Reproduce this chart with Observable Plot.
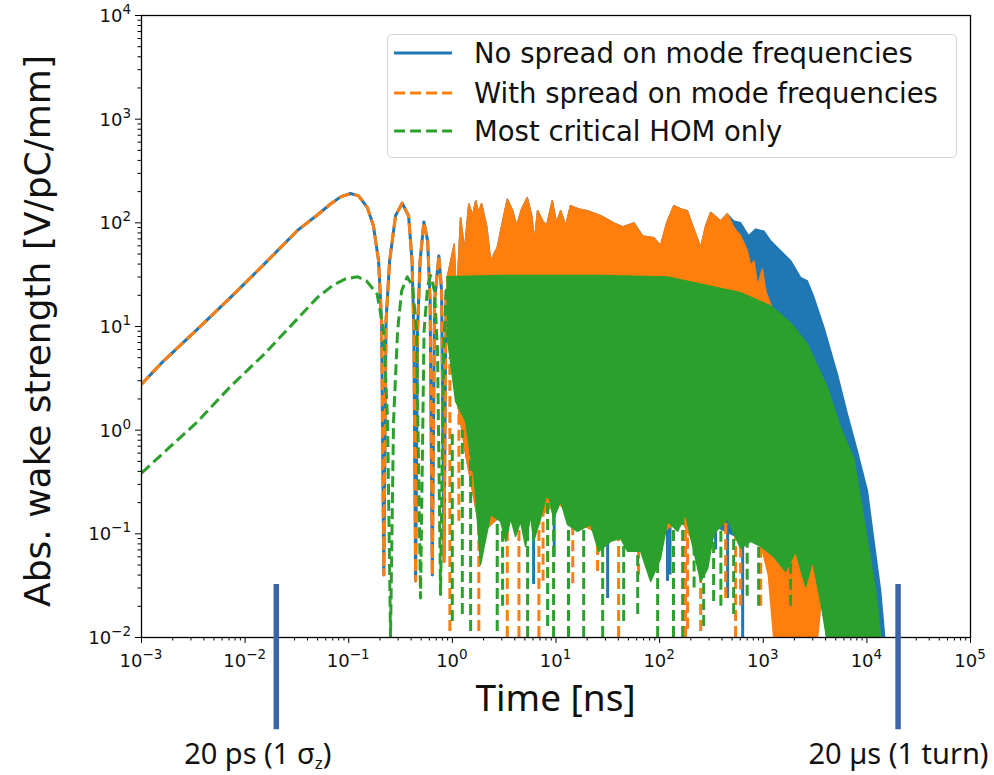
<!DOCTYPE html>
<html>
<head>
<meta charset="utf-8">
<script src="https://cdn.jsdelivr.net/npm/d3@7"></script>
<script src="https://cdn.jsdelivr.net/npm/@observablehq/plot@0.6"></script>
<style>
  html, body { margin: 0; padding: 0; background: #fff; }
  #wrap { position: relative; width: 994px; height: 775px; overflow: hidden; }
  .legend { position: absolute; left: 387px; top: 34px; width: 568px; height: 122px;
    border: 1px solid #d4d4d4; border-radius: 5px; background: rgba(255,255,255,0.85);
    font-family: "DejaVu Sans", sans-serif; font-size: 27.5px; color: #111; }
  .legend .row { position: absolute; left: 0; height: 30px; display: flex; align-items: center; }
  .legend svg { margin-left: 6px; margin-right: 22px; }
</style>
</head>
<body>
<div id="wrap"></div>
<script>
// ---------- axis ticks ----------
const xMajor = [1e-3, 1e-2, 1e-1, 1, 10, 100, 1e3, 1e4, 1e5];
const xTickExp = ["−3", "−2", "−1", "0", "1", "2", "3", "4", "5"];
const yMajor = [1e-2, 1e-1, 1, 10, 100, 1e3, 1e4];
const yTickExp = ["−2", "−1", "0", "1", "2", "3", "4"];
const tickBase = "10";

// ---------- legend ----------
const seriesNames = ["No spread on mode frequencies", "With spread on mode frequencies", "Most critical HOM only"];
const seriesColors = ["#1f77b4", "#ff7f0e", "#2ca02c"];
const seriesDash = [null, "11,5", "11,5"];

// ---------- early (resolved) part: blue and orange coincide ----------
const mainEarlyT = [0.001, 0.00163, 0.00345, 0.0072, 0.0152, 0.0318, 0.0497, 0.0667, 0.0834, 0.104, 0.1245, 0.151, 0.173, 0.194, 0.2075, 0.218, 0.229, 0.248, 0.283, 0.328, 0.378, 0.408, 0.425, 0.442, 0.461, 0.488, 0.531, 0.577, 0.610, 0.64, 0.673, 0.741, 0.787, 0.83, 0.869];
const mainEarlyV = [2.78, 4.64, 9.4, 19, 39.7, 84, 119, 152, 178, 192, 182, 141, 93.6, 43, 11.3, 0.04, 11.3, 43, 117, 155, 117, 43, 9.06, 0.035, 9.06, 43, 102, 67, 17.6, 0.04, 17.6, 48, 22, 0.054, 22];

const greenEarlyT = [0.001, 0.00345, 0.0072, 0.0152, 0.0318, 0.0497, 0.0713, 0.0931, 0.121, 0.1486, 0.188, 0.217, 0.237, 0.253, 0.2705, 0.296, 0.3236, 0.367, 0.413, 0.451, 0.493, 0.533, 0.577, 0.616, 0.673, 0.719, 0.769, 0.822, 0.879];
const greenEarlyV = [0.386, 1.2, 2.63, 5.38, 11.8, 19, 25.2, 28.8, 30.2, 27.5, 20.5, 9.06, 1.22, 0.01, 1.22, 9.06, 22, 30.2, 24.6, 9.06, 0.024, 9.06, 24.6, 31, 22, 5.8, 0.026, 5.8, 24.6];

// ---------- dense part: upper envelopes ----------
const sharedTopT = [0.879, 1.04, 1.097, 1.2, 1.31, 1.44, 1.57, 1.68, 1.79, 1.91, 2.14, 2.34, 2.71, 2.92, 3.39, 3.81, 4.17, 4.66, 5.28, 5.82, 6.21, 6.64, 7.43, 8.11, 9.2, 10.1, 11.1, 12.4, 13.8, 16.5, 20, 27, 36, 44, 56.5, 68.5, 88, 102, 117, 137, 160, 185, 208, 249, 278, 311, 388, 450];
const sharedTopV = [27.5, 62, 17.6, 112, 53.6, 152, 117, 163, 125, 153, 93.6, 43, 57.7, 83, 169, 131, 93.6, 136, 175, 117, 67, 131, 104.5, 93.6, 163, 100, 131, 93.6, 146, 136, 131, 117, 100, 91.5, 100, 74.8, 72, 60, 100, 146, 136, 131, 93.6, 57.7, 93.6, 126, 104, 122];

const blueTailT = [518, 605, 723, 845, 1016, 1178, 1368, 1841, 2296, 2665, 3083, 3855, 5190, 6490, 8090, 10120, 11700, 13580, 14860];
const blueTailV = [104, 100, 74.8, 87, 83, 67, 57.7, 43, 29.6, 27.5, 19, 9.73, 3.45, 1.42, 0.627, 0.258, 0.085, 0.0278, 0.01];

const orangeTailT = [521, 605, 702, 755, 814, 883, 980, 1055, 1178, 1260, 1841, 2665, 3350, 4476];
const orangeTailV = [90, 74.8, 53.6, 38.5, 43, 24.6, 35.7, 22, 16.4, 14, 10, 6, 3.5, 1.5];

const greenTopT = [0.879, 2.92, 27, 119, 360, 605, 1178, 1841, 2665, 4160, 5585, 7510, 10120, 12160, 13590];
const greenTopV = [30.2, 31, 31, 30, 23.7, 21.2, 15.8, 10.8, 6.73, 2.56, 1.05, 0.521, 0.0848, 0.0278, 0.01];

// ---------- dense part: lower envelopes ----------
const blueBotT = [0.879, 1.34, 1.87, 2.92, 5.09, 10.4, 21.6, 42.1, 81.9, 149, 332, 605, 944, 1260, 2054, 3580, 4094, 14860];
const blueBotV = [9.06, 0.6, 0.1, 0.15, 0.15, 0.2, 0.15, 0.12, 0.1, 0.14, 0.12, 0.09, 0.09, 0.08, 0.08, 0.03, 0.01, 0.01];

const orangeBotT = [0.879, 1.34, 1.87, 2.92, 4.55, 7.1, 10.4, 16.1, 25.8, 40.2, 62.7, 102, 160, 249, 332, 453, 605, 755, 944, 1120, 1260, 3350, 3580, 4476];
const orangeBotV = [9.06, 0.6, 0.1, 0.15, 0.15, 0.15, 0.2, 0.13, 0.1, 0.11, 0.1, 0.1, 0.14, 0.06, 0.1, 0.15, 0.08, 0.09, 0.08, 0.04, 0.01, 0.01, 0.02, 0.02];

const greenBotT = [0.879, 1.074, 1.34, 1.64, 1.87, 2.34, 2.92, 3.27, 3.65, 4.07, 4.55, 5.09, 5.69, 6.08, 7.1, 8.3, 9.48, 11.1, 12.9, 16.1, 21.6, 25.8, 33.7, 42.1, 49.1, 65.6, 81.9, 102, 119, 149, 178, 249, 291, 332, 453, 605, 755, 944, 1260, 1645, 2054, 2566, 2998, 3580, 4094, 13590];
const greenBotV = [9.06, 1.9, 1.22, 0.321, 0.0507, 0.154, 0.132, 0.0847, 0.141, 0.0946, 0.132, 0.0757, 0.154, 0.0847, 0.141, 0.258, 0.141, 0.206, 0.1236, 0.1057, 0.1236, 0.0678, 0.0847, 0.0905, 0.0678, 0.0678, 0.0348, 0.058, 0.132, 0.1057, 0.154, 0.0348, 0.0464, 0.0989, 0.141, 0.0724, 0.0847, 0.0757, 0.0607, 0.0434, 0.0678, 0.0311, 0.0542, 0.0223, 0.01, 0.01];

// ---------- deep downward spikes (time, minimum value) ----------
const blueSpikeT = [6.08, 9.6, 31.5, 119, 126, 347, 453, 633];
const blueSpikeMin = [0.0325, 0.06, 0.0238, 0.0348, 0.04, 0.07, 0.0238, 0.01];
const orangeSpikeT = [0.946, 1.156, 1.80, 3.39, 4.39, 6.84, 7.5, 14.5, 25.2, 40.2, 62.7, 178, 186, 249, 434, 541, 605, 944];
const orangeSpikeMin = [0.0114, 0.132, 0.0114, 0.01, 0.01, 0.01, 0.0348, 0.033, 0.0434, 0.01, 0.04, 0.01, 0.012, 0.0114, 0.0238, 0.01, 0.02, 0.02];
const greenSpikeT = [0.998, 1.247, 1.5, 2.71, 3.05, 5.32, 8.3, 9.48, 13.2, 18.5, 28.2, 45, 61.4, 95.7, 136, 167, 215, 266, 332, 390, 518, 700, 903, 1837];
const greenSpikeMin = [0.0143, 0.0167, 0.0114, 0.0114, 0.02, 0.01, 0.0128, 0.01, 0.01, 0.01, 0.01, 0.0143, 0.0167, 0.01, 0.01, 0.01, 0.03, 0.0128, 0.0223, 0.02, 0.0167, 0.025, 0.02, 0.02];

// ---------- annotation markers ----------
const markerTimes = [0.02, 20000];
const markerLabels = [["20 ps (1 σ", "z", ")"], ["20 µs (1 turn)", "", ""]];

// ---------- helpers ----------
const pts = (T, V) => T.slice(0, Math.min(T.length, V.length)).map((t, i) => ({t, v: V[i]}));
const spikes = (T, M) => T.map((t, i) => ({t, lo: M[i]}));

const bluePoly = pts(sharedTopT.concat(blueTailT), sharedTopV.concat(blueTailV)).concat(pts(blueBotT, blueBotV).reverse());
const orangePoly = pts(sharedTopT.concat(orangeTailT), sharedTopV.concat(orangeTailV)).concat(pts(orangeBotT, orangeBotV).reverse());
const greenPoly = pts(greenTopT, greenTopV).concat(pts(greenBotT, greenBotV).reverse());

const xMinor = [];
for (let i = 0; i < xMajor.length - 1; i++) for (let k = 2; k <= 9; k++) xMinor.push(k * xMajor[i]);
const yMinor = [];
for (let i = 0; i < yMajor.length - 1; i++) for (let k = 2; k <= 9; k++) yMinor.push(k * yMajor[i]);

const [cB, cO, cG] = seriesColors;
const lw = 3;

const chart = Plot.plot({
  width: 994, height: 775,
  marginLeft: 141, marginRight: 24, marginTop: 15, marginBottom: 138,
  x: {type: "log", domain: [1e-3, 1e5]},
  y: {type: "log", domain: [1e-2, 1e4]},
  style: {fontFamily: "DejaVu Sans, sans-serif", fontSize: "17px", color: "black", background: "white"},
  marks: [
    // blue
    Plot.line(pts(mainEarlyT, mainEarlyV), {x: "t", y: "v", stroke: cB, strokeWidth: lw, clip: true}),
    Plot.line(bluePoly, {x: "t", y: "v", fill: cB, stroke: cB, strokeWidth: 1.5, clip: true}),
    Plot.ruleX(spikes(blueSpikeT, blueSpikeMin), {x: "t", y1: "lo", y2: 5, stroke: cB, strokeWidth: lw, clip: true}),
    // orange
    Plot.line(pts(mainEarlyT, mainEarlyV), {x: "t", y: "v", stroke: cO, strokeWidth: lw, strokeDasharray: seriesDash[1], strokeLinecap: "butt", clip: true}),
    Plot.line(orangePoly, {x: "t", y: "v", fill: cO, stroke: cO, strokeWidth: 1.5, clip: true}),
    Plot.ruleX(spikes(orangeSpikeT, orangeSpikeMin), {x: "t", y1: "lo", y2: 5, stroke: cO, strokeWidth: lw, strokeDasharray: seriesDash[1], clip: true}),
    // green
    Plot.line(pts(greenEarlyT, greenEarlyV), {x: "t", y: "v", stroke: cG, strokeWidth: lw, strokeDasharray: seriesDash[2], strokeLinecap: "butt", clip: true}),
    Plot.line(greenPoly, {x: "t", y: "v", fill: cG, stroke: cG, strokeWidth: 1.5, clip: true}),
    Plot.ruleX(spikes(greenSpikeT, greenSpikeMin), {x: "t", y1: "lo", y2: 1, stroke: cG, strokeWidth: lw, strokeDasharray: seriesDash[2], clip: true}),
    // axes (labels are added below with superscripts)
    Plot.frame({stroke: "black", strokeWidth: 1.3}),
    Plot.axisX(xMajor, {tickSize: 6, tickFormat: () => "", label: null}),
    Plot.axisX(xMinor, {tickSize: 3.5, tickFormat: () => "", label: null}),
    Plot.axisY(yMajor, {tickSize: 6, tickFormat: () => "", label: null}),
    Plot.axisY(yMinor, {tickSize: 3.5, tickFormat: () => "", label: null}),
    // annotation markers
    Plot.ruleX(markerTimes, {y1: 0.00129, y2: 0.0325, stroke: "#3b64a8", strokeWidth: 5.5, clip: false})
  ]
});

document.getElementById("wrap").appendChild(chart);

// ---------- extra texts ----------
const svg = d3.select(chart);
const sx = chart.scale("x"), sy = chart.scale("y");
const tickFont = "DejaVu Sans, sans-serif";
function sciLabel(x, y, exp, anchor) {
  const t = svg.append("text").attr("x", x).attr("y", y).attr("text-anchor", anchor)
    .style("font-family", tickFont).style("font-size", "18px").attr("fill", "#111");
  t.append("tspan").text(tickBase);
  t.append("tspan").attr("dy", -8).style("font-size", "13.5px").text(exp);
}
xMajor.forEach((v, i) => sciLabel(sx.apply(v), 667, xTickExp[i], "middle"));
yMajor.forEach((v, i) => sciLabel(131, sy.apply(v) + 7, yTickExp[i], "end"));

svg.append("text")
  .attr("transform", "translate(37,331) rotate(-90)")
  .attr("text-anchor", "middle").attr("dominant-baseline", "central")
  .style("font-family", "DejaVu Sans, sans-serif").style("font-size", "36px").attr("fill", "#111")
  .text("Abs. wake strength [V/pC/mm]");
svg.append("text")
  .attr("x", (141 + 970) / 2).attr("y", 696)
  .attr("text-anchor", "middle").attr("dominant-baseline", "central")
  .style("font-family", "Noto Sans, sans-serif").style("font-size", "37px").attr("fill", "#111")
  .text("Time [ns]");
const labelOffsets = [-18, 1];
markerTimes.forEach((t, i) => {
  const [a, sub, b] = markerLabels[i];
  const txt = svg.append("text")
    .attr("x", sx.apply(t) + labelOffsets[i]).attr("y", 764)
    .attr("text-anchor", "middle")
    .style("font-family", "Noto Sans, sans-serif").style("font-size", "29px").attr("fill", "#111");
  txt.append("tspan").text(a);
  if (sub) txt.append("tspan").attr("dy", 5).style("font-size", "17px").text(sub);
  if (b) txt.append("tspan").attr("dy", sub ? -5 : 0).text(b);
});

// ---------- legend ----------
const leg = d3.select("#wrap").append("div").attr("class", "legend");
const rowTops = [3, 43, 81];
seriesNames.forEach((name, i) => {
  const row = leg.append("div").attr("class", "row").style("top", rowTops[i] + "px");
  const s = row.append("svg").attr("width", 58).attr("height", 10);
  s.append("line").attr("x1", 0).attr("x2", 58).attr("y1", 5).attr("y2", 5)
    .attr("stroke", seriesColors[i]).attr("stroke-width", lw)
    .attr("stroke-dasharray", seriesDash[i]);
  row.append("span").text(name);
});
</script>
</body>
</html>
